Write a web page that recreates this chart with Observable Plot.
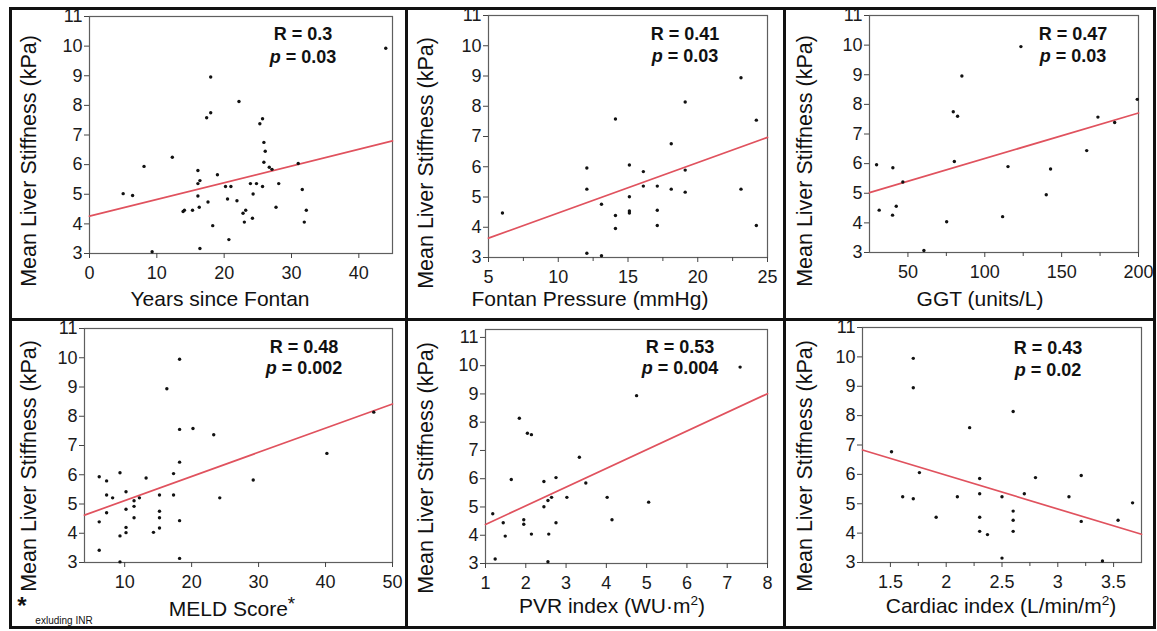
<!DOCTYPE html>
<html><head><meta charset="utf-8">
<script src="https://cdn.jsdelivr.net/npm/d3@7"></script>
<script src="https://cdn.jsdelivr.net/npm/@observablehq/plot@0.6"></script>
<style>
body{margin:0;background:#fff;}
#root{position:relative;width:1157px;height:631px;overflow:hidden;font-family:"Liberation Sans",Arial,sans-serif;color:#111;background:#fff;}
.t{position:absolute;white-space:nowrap;line-height:1;transform:translate(-50%,-50%);}
.r{transform:translate(-50%,-50%) rotate(-90deg);}
.b{position:absolute;background:#111;}
</style></head><body><div id="root"></div>
<script>
// ---- data ----
const yearsX = [44,18,22.2,18,17.4,25.7,25.3,25.9,26.1,25.9,26.7,27.1,31,12.3,8.1,16.1,19,16.4,16.1,23.9,24.8,25.7,28.1,20.2,21,31.6,5,6.4,16.1,20.5,17.6,21.9,24.3,16.3,13.9,14.1,15.3,23.2,22.8,27.7,32.2,24.2,23,31.9,18.3,20.7,16.4,9.3];
const yearsY = [9.93,8.96,8.13,7.75,7.58,7.55,7.38,6.75,6.45,6.08,5.91,5.84,6.04,6.25,5.94,5.8,5.66,5.46,5.36,5.36,5.36,5.26,5.36,5.26,5.26,5.16,5.02,4.96,4.94,4.84,4.74,4.78,5.01,4.56,4.42,4.46,4.46,4.46,4.36,4.56,4.46,4.19,4.06,4.06,3.94,3.47,3.17,3.06];
const pressureX = [23.1,19.1,14.1,24.2,18.1,12.05,15.1,19.1,16.1,16.1,17.1,12.05,18.1,19.1,23.1,15.1,13.1,15.1,15.1,17.1,14.1,6,14.1,17.1,24.2,12.05,13.1];
const pressureY = [8.94,8.14,7.58,7.54,6.76,5.96,6.06,5.89,5.84,5.36,5.36,5.26,5.26,5.16,5.26,5.01,4.76,4.54,4.47,4.56,4.39,4.47,3.96,4.06,4.06,3.14,3.06];
const ggtX = [123.5,85.1,79.5,82.3,199.2,173.6,184.5,166.3,80.2,29.6,40.2,115.1,142.8,46.7,140,42.4,31.3,40,111.6,75.2,60.4];
const ggtY = [9.95,8.96,7.75,7.6,8.17,7.57,7.39,6.44,6.07,5.96,5.86,5.9,5.82,5.38,4.95,4.56,4.43,4.26,4.21,4.04,3.07];
const meldX = [18.2,16.3,47.2,18.2,20.2,23.3,40.2,18.2,17.3,9.3,6.2,13.2,7.3,29.2,10.2,7.3,8.2,15.2,17.3,24.2,12.2,11.4,11.4,10.2,7.3,15.2,15.2,11.4,18.2,6.2,10.2,15.2,10.2,14.3,9.3,6.2,9.3,18.2];
const meldY = [9.95,8.94,8.14,7.55,7.58,7.37,6.73,6.43,6.04,6.07,5.93,5.89,5.79,5.82,5.42,5.31,5.21,5.31,5.31,5.21,5.21,5.11,4.92,4.82,4.7,4.75,4.53,4.53,4.43,4.39,4.2,4.18,4.02,4.03,3.91,3.42,3.02,3.14];
const pvrX = [7.32,4.75,1.84,2.04,2.14,3.33,1.64,2.75,2.45,3.49,3.02,4.02,2.64,2.55,5.05,2.45,1.18,1.95,1.95,1.44,2.75,4.14,1.49,2.14,2.57,1.24,2.55];
const pvrY = [9.95,8.94,8.14,7.61,7.56,6.76,5.97,6.04,5.9,5.85,5.34,5.34,5.34,5.23,5.17,5.01,4.76,4.55,4.39,4.44,4.44,4.55,3.97,4.04,4.04,3.16,3.06];
const ciX = [1.705,1.705,2.6,2.21,1.51,1.76,2.3,2.8,3.21,1.61,1.705,2.1,2.3,2.5,2.7,3.1,3.67,2.6,1.91,2.3,2.6,3.54,3.21,2.3,2.37,2.6,2.5,3.4];
const ciY = [9.95,8.95,8.14,7.59,6.77,6.06,5.86,5.89,5.96,5.24,5.17,5.24,5.34,5.24,5.34,5.24,5.03,4.75,4.54,4.54,4.44,4.44,4.4,4.06,3.95,4.06,3.15,3.05];
// fitted line values at the two ends of each x range
const fitYears = [4.26, 6.80];
const fitPressure = [3.64, 6.97];
const fitGgt = [5.02, 7.71];
const fitMeld = [4.62, 8.42];
const fitPvr = [4.38, 9.01];
const fitCi = [6.83, 3.96];
const statR = ["R = 0.3","R = 0.41","R = 0.47","R = 0.48","R = 0.53","R = 0.43"];
const statP = ["0.03","0.03","0.03","0.002","0.004","0.02"];
const xTitles = ["Years since Fontan","Fontan Pressure (mmHg)","GGT (units/L)","MELD Score<sup style='font-size:0.9em;vertical-align:0.35em'>*</sup>","PVR index (WU·m<sup style='font-size:0.65em'>2</sup>)","Cardiac index (L/min/m<sup style='font-size:0.65em'>2</sup>)"];
const yTitle = "Mean Liver Stiffness (kPa)";
const yTicks = [3,4,5,6,7,8,9,10,11];

const root = document.getElementById("root");
function txt(html, cx, cy, size, extra="", cls="t"){
  const d = document.createElement("div");
  d.className = cls;
  d.innerHTML = html;
  d.style.left = cx+"px"; d.style.top = cy+"px"; d.style.fontSize = size+"px";
  if (extra) d.style.cssText += extra;
  root.appendChild(d);
}
const panels = [
  {xs:yearsX, ys:yearsY, fit:fitYears, xd:[0,45], yd:[3,11], fr:[89,392,16,253], ticks:[0,10,20,30,40], minor:[], ylx:30, yly:161, xlx:220, xly:298, rx:303, ry:34, py:57},
  {xs:pressureX, ys:pressureY, fit:fitPressure, xd:[5,25], yd:[3,11], fr:[488,767,15,257], ticks:[5,10,15,20,25], minor:[7.5,12.5,17.5,22.5], ylx:427, yly:163, xlx:590, xly:298, rx:685, ry:34, py:56},
  {xs:ggtX, ys:ggtY, fit:fitGgt, xd:[25,200], yd:[3,11], fr:[869,1138,15,252], ticks:[50,100,150,200], minor:[75,125,175], ylx:806, yly:161, xlx:980, xly:298, rx:1073, ry:34, py:56},
  {xs:meldX, ys:meldY, fit:fitMeld, xd:[4,50], yd:[3,11], fr:[84,392,328,562], ticks:[10,20,30,40,50], minor:[], ylx:30, yly:466, xlx:232, xly:607, rx:304, ry:347, py:368},
  {xs:pvrX, ys:pvrY, fit:fitPvr, xd:[1,8], yd:[3,11.28], fr:[485,767,329,563], ticks:[1,2,3,4,5,6,7,8], minor:[], ylx:427, yly:468, xlx:612, xly:605, rx:680, ry:347, py:368},
  {xs:ciX, ys:ciY, fit:fitCi, xd:[1.25,3.75], yd:[3,11], fr:[862,1141,327,562], ticks:[1.5,2,2.5,3,3.5], minor:[1.75,2.25,2.75,3.25], ylx:806, yly:466, xlx:1001, xly:605, rx:1048, ry:348, py:370}
];
panels.forEach((p, i) => {
  const ml = 60, mr = 28, mt = 12, mb = 45;
  const [x0,x1,y0,y1] = p.fr;
  const pts = p.xs.map((x, k) => ({x, y: p.ys[k]}));
  const line = [{x: p.xd[0], y: p.fit[0]}, {x: p.xd[1], y: p.fit[1]}];
  const svg = Plot.plot({
    width: (x1-x0)+ml+mr, height: (y1-y0)+mt+mb,
    marginLeft: ml, marginRight: mr, marginTop: mt, marginBottom: mb,
    style: {background: "none", fontFamily: "Liberation Sans, Arial, sans-serif", fontSize: "18px", color: "#1a1a1a", maxWidth: "none"},
    x: {domain: p.xd, label: null},
    y: {domain: p.yd, label: null},
    marks: [
      Plot.frame({stroke: "#5e5e5e", strokeWidth: 1.2}),
      Plot.axisY({ticks: yTicks, tickSize: 5, tickPadding: 2, label: null, fontSize: 18, stroke: "#444"}),
      Plot.axisX({ticks: p.ticks, tickSize: 5, tickPadding: 8, label: null, fontSize: 18, stroke: "#444", tickFormat: d => String(d)}),
      ...(p.minor.length ? [Plot.axisX({ticks: p.minor, tickSize: 4, label: null, tickFormat: () => "", stroke: "#444"})] : []),
      Plot.line(line, {x: "x", y: "y", stroke: "#e0525e", strokeWidth: 1.7}),
      Plot.dot(pts, {x: "x", y: "y", r: 1.7, fill: "#111", stroke: null})
    ]
  });
  svg.style.position = "absolute";
  svg.style.left = (x0-ml)+"px"; svg.style.top = (y0-mt)+"px";
  root.appendChild(svg);
  txt(yTitle, p.ylx, p.yly, 21.5, "", "t r");
  txt(xTitles[i], p.xlx, p.xly, 21);
  txt(statR[i], p.rx, p.ry, 18, "font-weight:bold;");
  txt("<i>p</i> = " + statP[i], p.rx, p.py, 18, "font-weight:bold;");
});
txt("*", 22, 606, 24, "font-weight:bold;");
txt("exluding INR", 64, 621, 10);
// cell borders
[[9,7,1147,3],[9,626,1147,3],[9,7,3,622],[1153,7,3,622],[405,7,3,622],[783,7,3,622],[9,318,1147,3]].forEach(([l,t,w,h]) => {
  const d = document.createElement("div"); d.className = "b";
  d.style.left = l+"px"; d.style.top = t+"px"; d.style.width = w+"px"; d.style.height = h+"px";
  root.appendChild(d);
});
</script></body></html>
